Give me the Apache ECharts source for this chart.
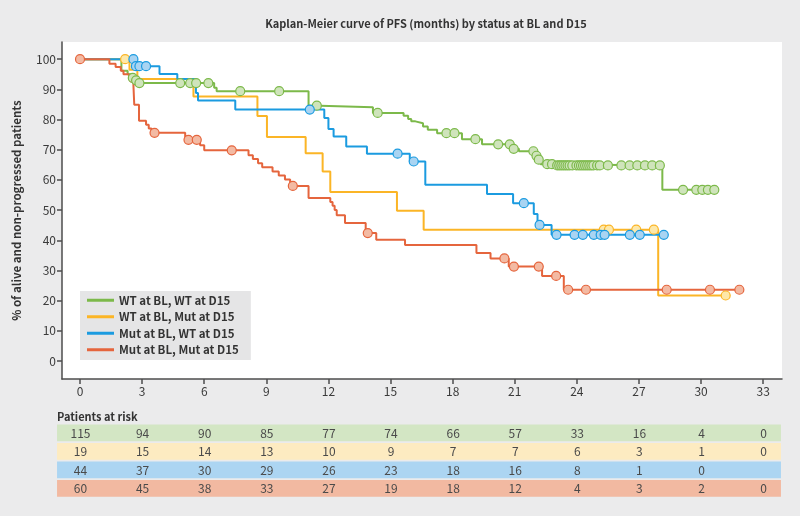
<!DOCTYPE html>
<html><head><meta charset="utf-8">
<script src="https://cdn.jsdelivr.net/npm/echarts@6/dist/echarts.min.js"></script>
<style>html,body{margin:0;padding:0;background:#ebebec;}#c{width:800px;height:516px;}</style>
</head><body><div id="c"></div>
<script>
// ---------- data ----------
const seriesNames = ['WT at BL, WT at D15','WT at BL, Mut at D15','Mut at BL, WT at D15','Mut at BL, Mut at D15'];
const xTicks = [0,3,6,9,12,15,18,21,24,27,30,33];
const yTicks = [0,10,20,30,40,50,60,70,80,90,100];

// step curves: [time of event, survival after event]
const stepsWTWT = [[0,100],[2.0,96.2],[2.3,95.0],[2.5,93.8],[2.65,93.0],[2.8,92.1],[6.48,90.5],[6.6,89.4],[11.04,84.6],[11.6,84.1],[14.15,82.2],[15.63,81.3],[15.85,80.2],[16.0,79.4],[16.2,78.8],[16.57,77.7],[16.8,76.6],[17.25,75.5],[18.45,73.5],[19.42,71.8],[20.85,70.3],[21.2,69.5],[21.95,68.0],[22.1,66.7],[22.25,65.2],[22.95,64.8],[28.13,56.7],[30.64,56.7]];
const censWTWT = [2.55,2.71,2.87,4.84,5.32,5.61,6.2,7.74,9.62,11.44,14.38,17.7,18.09,19.1,20.2,20.76,20.95,21.9,22.05,22.16,22.57,22.8,23.05,23.15,23.25,23.35,23.45,23.55,23.65,23.78,23.98,24.1,24.2,24.3,24.4,24.5,24.6,24.7,24.8,24.98,25.11,25.5,26.15,26.55,26.92,27.29,27.64,28.01,29.13,29.77,30.06,30.33,30.64];

const stepsWTMut = [[0,100],[2.39,96.5],[2.77,93.4],[5.48,87.6],[8.57,81.2],[9.03,74.2],[10.9,68.8],[11.72,62.8],[12.09,56.0],[15.31,49.8],[16.6,43.5],[27.93,21.7],[31.19,21.7]];
const censWTMut = [2.18,25.3,25.55,26.87,27.72,31.19];

const stepsMutWT = [[0,100],[2.62,97.7],[3.84,95.1],[4.7,93.4],[5.6,88.8],[5.7,86.3],[7.5,83.3],[11.8,80.5],[12.0,76.9],[12.25,74.4],[12.86,71.1],[13.86,68.7],[15.93,66.1],[16.68,58.4],[19.66,55.3],[20.92,52.3],[21.92,48.7],[22.1,45.1],[22.78,41.8],[28.2,41.8]];
const censMutWT = [2.58,2.7,2.87,3.19,11.1,15.34,16.12,21.44,22.2,23.02,23.89,24.29,24.82,25.15,25.34,26.56,27.04,28.2];

const stepsMutMut = [[0,100],[1.42,98.5],[1.72,97.4],[1.97,96.2],[2.1,95.0],[2.37,93.8],[2.45,92.6],[2.58,91.4],[2.62,84.9],[2.85,79.6],[3.19,78.3],[3.32,77.0],[3.45,75.6],[5.08,73.3],[5.8,71.5],[6.0,69.8],[8.14,68.2],[8.35,66.9],[8.6,65.5],[8.8,64.2],[9.3,62.8],[9.6,61.5],[9.9,60.1],[10.15,58.0],[11.04,54.0],[12.09,52.7],[12.2,51.4],[12.3,50.0],[12.4,48.3],[12.8,45.7],[13.8,42.4],[14.31,40.2],[15.7,38.4],[19.15,35.8],[19.83,34.0],[20.71,31.3],[22.32,28.2],[23.37,23.6],[31.85,23.6]];
const censMutMut = [0,3.6,5.24,5.64,7.33,10.28,13.9,20.5,20.96,22.16,23.0,23.58,24.44,28.34,30.43,31.85];

// patients at risk at xTicks
const riskWTWT = [115,94,90,85,77,74,66,57,33,16,4,0];
const riskWTMut = [19,15,14,13,10,9,7,7,6,3,1,0];
const riskMutWT = [44,37,30,29,26,23,18,16,8,1,0,null];
const riskMutMut = [60,45,38,33,27,19,18,12,4,3,2,0];

// ---------- styles ----------
const lineColors = ['#7cb94a','#fbb526','#1b9be0','#e5653d'];
const fillColors = ['#cfe4bb','#fde8a9','#a9d4f2','#f3baa3'];
const bandColors = ['#d3e6c4','#fdebc1','#acd5f2','#f2b9a1'];
const steps = [stepsWTWT,stepsWTMut,stepsMutWT,stepsMutMut];
const cens = [censWTWT,censWTMut,censMutWT,censMutMut];
const risks = [riskWTWT,riskWTMut,riskMutWT,riskMutMut];
const XMIN = -0.87, XMAX = 33.91, YMIN = -5.97, YMAX = 105.7;
const FONT = '"Noto Sans CJK SC","Noto Sans",sans-serif';

function levelAt(st, t){ let v = st[0][1]; for (const p of st){ if (p[0] <= t + 1e-9) v = p[1]; } return v; }

const series = [];
steps.forEach((st,i)=>{
  series.push({name: seriesNames[i], type:'line', step:'end', data: st, symbol:'none', z: 2+i,
    lineStyle:{color: lineColors[i], width: 2}, itemStyle:{color: lineColors[i]}, animation:false, xAxisIndex:0, yAxisIndex:0});
});
cens.forEach((cs,i)=>{
  series.push({name: seriesNames[i]+' censored', type:'scatter', symbol:'circle', symbolSize: 9, z: 10+i,
    data: cs.map(t=>[t, levelAt(steps[i], t)]),
    itemStyle:{color: fillColors[i], borderColor: lineColors[i], borderWidth: 1.2, opacity:1}, animation:false, xAxisIndex:0, yAxisIndex:0});
});
// risk table bands
series.push({type:'custom', xAxisIndex:1, yAxisIndex:1, silent:true, animation:false,
  data: [0,1,2,3].map(r=>[0,r]),
  renderItem:(params, api)=>{
    const r = api.value(1);
    const c = api.coord([0, r]);
    const h = api.size([0,1])[1];
    const x0 = api.coord([-1.11, r])[0], x1 = api.coord([33.86, r])[0];
    return {type:'rect', shape:{x:x0, y:c[1]-h/2+0.6, width:x1-x0, height:h-1.8}, style:{fill: bandColors[r]}};
  }});
// risk numbers
const riskData = [];
risks.forEach((arr,r)=>arr.forEach((n,k)=>{ if(n!==null) riskData.push([xTicks[k], r, n]); }));
series.push({type:'custom', xAxisIndex:1, yAxisIndex:1, silent:true, animation:false, z:5,
  data: riskData,
  renderItem:(params, api)=>{
    const c = api.coord([api.value(0), api.value(1)]);
    return {type:'text', x:c[0]+0.5, y:c[1], style:{text: String(api.value(2)), fill:'#4a4a4a', font: '12px '+FONT, align:'center', verticalAlign:'middle'}};
  }});

const chart = echarts.init(document.getElementById('c'), null, {renderer:'canvas'});
chart.setOption({
  backgroundColor:'#ebebec',
  animation:false,
  title:[
    {text:'Kaplan-Meier curve of PFS (months) by status at BL and D15', left: 421, textAlign:'center', top: 13,
     textStyle:{fontFamily: FONT, fontWeight:'bold', fontSize: 11, color:'#333'}},
    {text:'Patients at risk', left: 52, top: 406, textStyle:{fontFamily: FONT, fontWeight:'bold', fontSize: 11, color:'#333'}}
  ],
  legend:{
    data: seriesNames, orient:'vertical', left: 80, top: 291, icon:'rect', itemWidth: 27, itemHeight: 3, itemGap: 2,
    backgroundColor:'#e5e5e6', padding:[2, 12, 3, 7], selectedMode:false,
    textStyle:{fontFamily: FONT, fontWeight:'bold', fontSize: 11.5, color:'#333', lineHeight: 14.5}
  },
  grid:[
    {left:62, right:18, top:42, bottom:137, show:true, backgroundColor:'#ffffff', borderWidth:0},
    {left:62, right:18, top:424, height:74, show:false}
  ],
  xAxis:[
    {type:'value', min:XMIN, max:XMAX, gridIndex:0,
     axisLine:{show:true, onZero:false, lineStyle:{color:'#4d4d4d', width:1.5}},
     axisTick:{show:true, length:5, customValues: xTicks, lineStyle:{color:'#4d4d4d', width:1.5}},
     axisLabel:{customValues: xTicks, margin:6, color:'#3a3a3a', fontSize:12, fontFamily: FONT},
     splitLine:{show:false}},
    {type:'value', min:XMIN, max:XMAX, gridIndex:1, show:false}
  ],
  yAxis:[
    {type:'value', min:YMIN, max:YMAX, gridIndex:0,
     name:'% of alive and non-progressed patients', nameLocation:'middle', nameGap:40, nameRotate:90,
     nameTextStyle:{fontFamily: FONT, fontWeight:'bold', fontSize:11.5, color:'#333'},
     axisLine:{show:true, onZero:false, lineStyle:{color:'#4d4d4d', width:1.5}},
     axisTick:{show:true, length:5, customValues: yTicks, lineStyle:{color:'#4d4d4d', width:1.5}},
     axisLabel:{customValues: yTicks, margin:6, color:'#3a3a3a', fontSize:12, fontFamily: FONT},
     splitLine:{show:false}},
    {type:'category', data:[0,1,2,3], inverse:true, gridIndex:1, show:false}
  ],
  series: series
});
</script></body></html>
